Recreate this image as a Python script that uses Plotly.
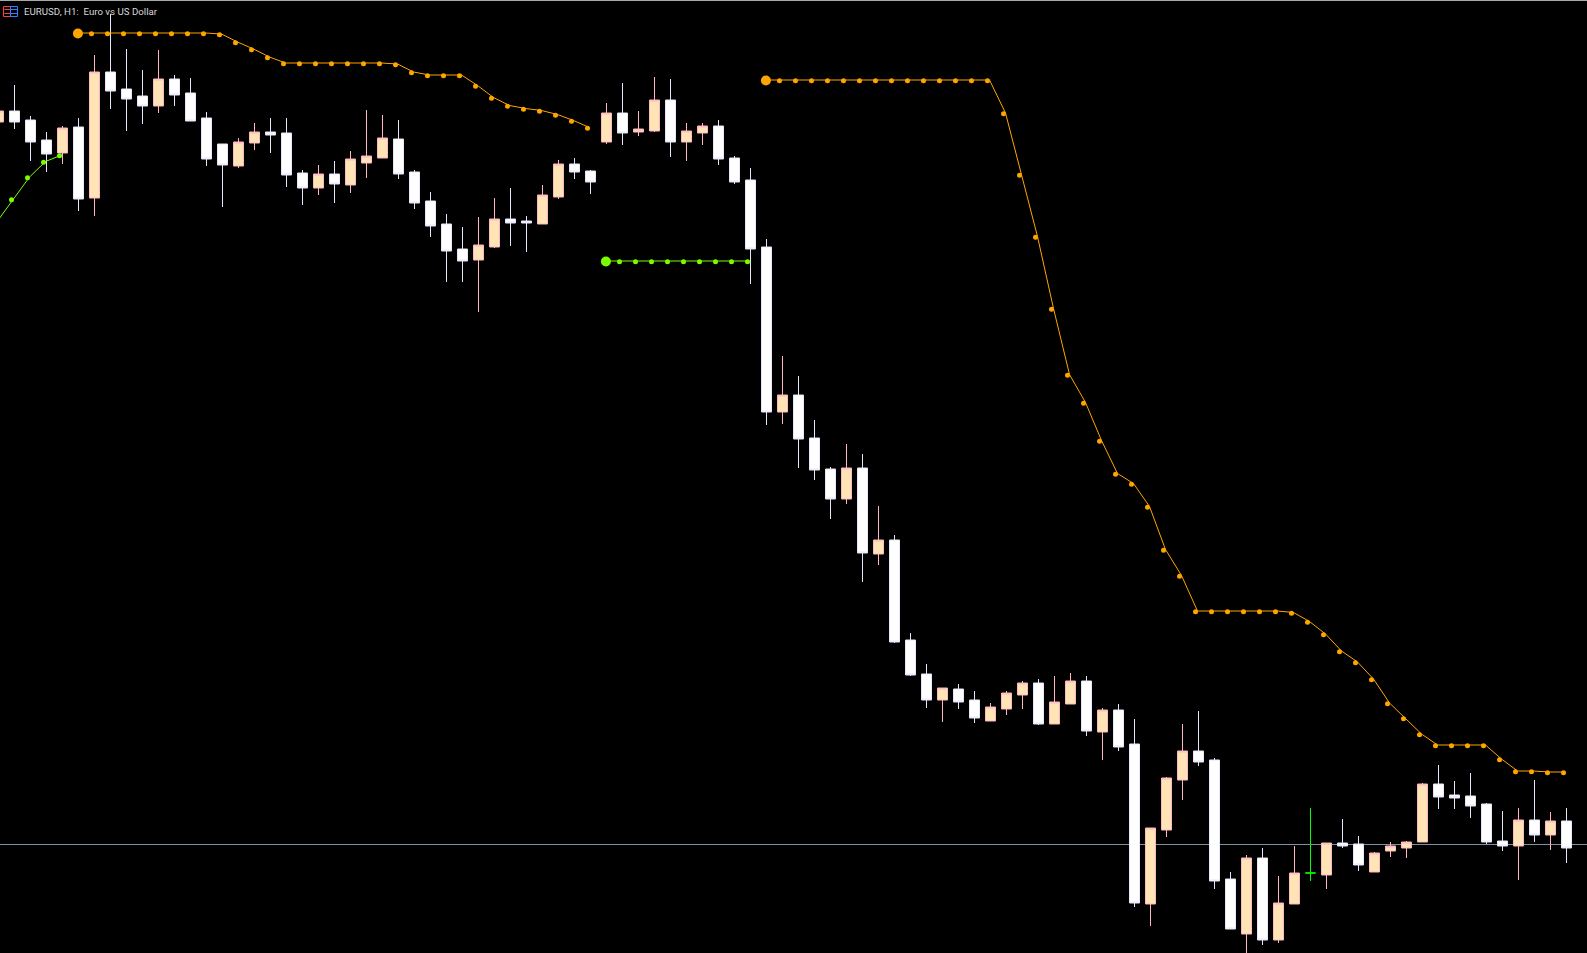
#!/bin/env python3
import numpy as np
import plotly.graph_objects as go

# H1 bars, first one is cut by the left edge of the window
bars = list(range(-1, 98))
opens = [
    1.09756, 1.09778, 1.09760, 1.09720, 1.09694, 1.09746, 1.09604, 1.09856, 1.09822, 1.09808,
    1.09788, 1.09842, 1.09814, 1.09764, 1.09712, 1.09668, 1.09714, 1.09736, 1.09734, 1.09654,
    1.09624, 1.09652, 1.09630, 1.09674, 1.09684, 1.09722, 1.09656, 1.09598, 1.09552, 1.09502,
    1.09480, 1.09506, 1.09562, 1.09558, 1.09552, 1.09606, 1.09672, 1.09658, 1.09716, 1.09774,
    1.09736, 1.09738, 1.09800, 1.09716, 1.09734, 1.09748, 1.09684, 1.09640, 1.09506, 1.09176,
    1.09210, 1.09124, 1.09062, 1.09002, 1.09064, 1.08892, 1.08920, 1.08720, 1.08652, 1.08600,
    1.08622, 1.08600, 1.08558, 1.08582, 1.08610, 1.08634, 1.08552, 1.08592, 1.08638, 1.08536,
    1.08580, 1.08512, 1.08192, 1.08340, 1.08440, 1.08498, 1.08480, 1.08242, 1.08132, 1.08284,
    1.08120, 1.08192, 1.08254, 1.08250, 1.08314, 1.08312, 1.08256, 1.08298, 1.08304, 1.08316,
    1.08432, 1.08410, 1.08408, 1.08392, 1.08318, 1.08308, 1.08360, 1.08330, 1.08358,
]
highs = [
    1.09780, 1.09830, 1.09768, 1.09736, 1.09748, 1.09764, 1.09890, 1.09972, 1.09902, 1.09860,
    1.09900, 1.09850, 1.09844, 1.09776, 1.09712, 1.09724, 1.09754, 1.09764, 1.09764, 1.09660,
    1.09670, 1.09678, 1.09698, 1.09780, 1.09770, 1.09760, 1.09660, 1.09616, 1.09572, 1.09546,
    1.09566, 1.09604, 1.09624, 1.09568, 1.09630, 1.09680, 1.09684, 1.09660, 1.09794, 1.09834,
    1.09778, 1.09846, 1.09842, 1.09754, 1.09754, 1.09760, 1.09688, 1.09664, 1.09522, 1.09288,
    1.09248, 1.09160, 1.09066, 1.09112, 1.09092, 1.08988, 1.08930, 1.08734, 1.08672, 1.08624,
    1.08632, 1.08618, 1.08594, 1.08618, 1.08638, 1.08642, 1.08648, 1.08654, 1.08648, 1.08584,
    1.08592, 1.08562, 1.08344, 1.08446, 1.08552, 1.08578, 1.08484, 1.08256, 1.08290, 1.08304,
    1.08248, 1.08308, 1.08384, 1.08314, 1.08362, 1.08328, 1.08296, 1.08316, 1.08318, 1.08434,
    1.08470, 1.08438, 1.08454, 1.08394, 1.08378, 1.08384, 1.08440, 1.08376, 1.08384,
]
lows = [
    1.09754, 1.09742, 1.09678, 1.09656, 1.09672, 1.09578, 1.09568, 1.09782, 1.09738, 1.09752,
    1.09774, 1.09788, 1.09758, 1.09668, 1.09586, 1.09664, 1.09700, 1.09694, 1.09626, 1.09590,
    1.09610, 1.09594, 1.09614, 1.09644, 1.09684, 1.09642, 1.09582, 1.09526, 1.09436, 1.09436,
    1.09376, 1.09504, 1.09508, 1.09496, 1.09552, 1.09602, 1.09642, 1.09612, 1.09712, 1.09710,
    1.09728, 1.09736, 1.09686, 1.09678, 1.09710, 1.09670, 1.09632, 1.09432, 1.09150, 1.09152,
    1.09064, 1.09040, 1.08962, 1.08992, 1.08836, 1.08870, 1.08714, 1.08648, 1.08584, 1.08556,
    1.08582, 1.08554, 1.08558, 1.08570, 1.08582, 1.08550, 1.08552, 1.08592, 1.08528, 1.08480,
    1.08498, 1.08186, 1.08148, 1.08326, 1.08400, 1.08468, 1.08222, 1.08142, 1.08090, 1.08110,
    1.08114, 1.08192, 1.08238, 1.08222, 1.08304, 1.08258, 1.08256, 1.08286, 1.08284, 1.08316,
    1.08382, 1.08382, 1.08364, 1.08312, 1.08298, 1.08240, 1.08316, 1.08300, 1.08274,
]
closes = [
    1.09778, 1.09756, 1.09716, 1.09692, 1.09744, 1.09602, 1.09856, 1.09818, 1.09802, 1.09788,
    1.09842, 1.09810, 1.09758, 1.09682, 1.09670, 1.09716, 1.09736, 1.09730, 1.09650, 1.09624,
    1.09652, 1.09632, 1.09682, 1.09688, 1.09724, 1.09652, 1.09594, 1.09548, 1.09498, 1.09478,
    1.09510, 1.09562, 1.09554, 1.09554, 1.09610, 1.09672, 1.09656, 1.09636, 1.09774, 1.09734,
    1.09742, 1.09800, 1.09716, 1.09738, 1.09748, 1.09682, 1.09636, 1.09502, 1.09176, 1.09210,
    1.09122, 1.09060, 1.09002, 1.09064, 1.08894, 1.08920, 1.08716, 1.08650, 1.08600, 1.08624,
    1.08596, 1.08564, 1.08586, 1.08614, 1.08634, 1.08552, 1.08596, 1.08638, 1.08538, 1.08580,
    1.08506, 1.08194, 1.08344, 1.08444, 1.08498, 1.08476, 1.08238, 1.08142, 1.08284, 1.08120,
    1.08194, 1.08254, 1.08254, 1.08314, 1.08308, 1.08270, 1.08294, 1.08308, 1.08316, 1.08432,
    1.08406, 1.08404, 1.08388, 1.08316, 1.08308, 1.08360, 1.08330, 1.08358, 1.08304,
]

# the one bar the platform paints green (mouse-over / selected bar)
selected_bar = 81

# stop lines: first bar of each run + the values
up_a_start = -1
up_a = [1.09558, 1.09602, 1.09646, 1.09677, 1.09690]
up_b_start = 37
up_b = [1.09478] * 10
down_a_start = 4
down_a = [1.09934] * 9 + [
    1.09932, 1.09916, 1.09902, 1.09886,
] + [1.09874] * 7 + [1.09872, 1.09856] + [1.09850] * 3 + [
    1.09829, 1.09805, 1.09789, 1.09783, 1.09779, 1.09771, 1.09759, 1.09745,
]
down_b_start = 47
down_b = [1.09840] * 15 + [
    1.09774, 1.09651, 1.09527, 1.09383, 1.09251, 1.09195, 1.09119, 1.09053, 1.09033, 1.08987,
    1.08901, 1.08849,
] + [1.08778] * 6 + [
    1.08775, 1.08757, 1.08732, 1.08698, 1.08676, 1.08642, 1.08594, 1.08564, 1.08532,
] + [1.08510] * 4 + [1.08482, 1.08458, 1.08458, 1.08456, 1.08456]

bid_price = 1.08311
title_text = "EURUSD, H1:\u00a0 Euro vs US Dollar"

WIDTH, HEIGHT = 1587, 953
BAR_PX = 16
PRICE_PER_PX = 0.00002
PEACH, PINK = "#ffe4b5", "#ffb6c1"
ORANGE, LIME = "#ffa500", "#7cfc00"
RED, BLUE = "#ff4040", "#2f80ff"


def px_x(p):
    return p / WIDTH


def px_y(p):
    return 1 - p / HEIGHT


def add_stop(fig, start, values, color, first_dot=True):
    # arrows sit a bit left of the bar and just under the buffer line
    x = np.arange(start, start + len(values))
    y = np.array(values)
    fig.add_trace(go.Scatter(x=x - 1 / BAR_PX, y=y, mode="lines", line=dict(color=color, width=1)))
    fig.add_trace(go.Scatter(
        x=x[1:] - 3 / BAR_PX, y=y[1:] - 0.7 * PRICE_PER_PX, mode="markers",
        marker=dict(color=color, size=5),
    ))
    if first_dot:
        fig.add_trace(go.Scatter(
            x=x[:1] - 0.6 / BAR_PX, y=y[:1] - 0.5 * PRICE_PER_PX, mode="markers",
            marker=dict(color=color, size=10),
        ))


idx = np.array(bars)
normal = idx != selected_bar
o, h, l, c = map(np.array, (opens, highs, lows, closes))

fig = go.Figure()
fig.add_trace(go.Candlestick(
    x=idx[normal], open=o[normal], high=h[normal], low=l[normal], close=c[normal],
    increasing=dict(line=dict(color=PINK, width=1), fillcolor=PEACH),
    decreasing=dict(line=dict(color="#e6e6fa", width=1), fillcolor="#ffffff"),
    whiskerwidth=0,
))
fig.add_trace(go.Candlestick(
    x=idx[~normal], open=o[~normal], high=h[~normal], low=l[~normal], close=c[~normal],
    increasing=dict(line=dict(color="#00ff00", width=1), fillcolor="#00ff00"),
    decreasing=dict(line=dict(color="#00ff00", width=1), fillcolor="#00ff00"),
    whiskerwidth=0,
))
# the first green run starts off-screen, so no big dot for it
add_stop(fig, up_a_start, up_a, LIME, first_dot=False)
add_stop(fig, up_b_start, up_b, LIME)
add_stop(fig, down_a_start, down_a, ORANGE)
add_stop(fig, down_b_start, down_b, ORANGE)

fig.add_shape(type="line", xref="paper", x0=0, x1=1, yref="y", y0=bid_price, y1=bid_price,
              line=dict(color="#8090a0", width=1), layer="below")
# window edge at the very top
fig.add_shape(type="line", xref="paper", yref="paper", x0=0, x1=1, y0=px_y(0.5), y1=px_y(0.5),
              line=dict(color="#a8a8a8", width=1))

# small menu icon in the corner
fig.add_shape(type="rect", xref="paper", yref="paper", x0=px_x(3.5), x1=px_x(10.5), y0=px_y(16.5), y1=px_y(6.5),
              line=dict(color=RED, width=1))
fig.add_shape(type="rect", xref="paper", yref="paper", x0=px_x(10.5), x1=px_x(17.5), y0=px_y(16.5), y1=px_y(6.5),
              line=dict(color=BLUE, width=1))
for row in (9.5, 13.5):
    fig.add_shape(type="line", xref="paper", yref="paper", x0=px_x(4.5), x1=px_x(10), y0=px_y(row), y1=px_y(row),
                  line=dict(color=RED, width=1))
    fig.add_shape(type="line", xref="paper", yref="paper", x0=px_x(11), x1=px_x(17), y0=px_y(row), y1=px_y(row),
                  line=dict(color=BLUE, width=1))

fig.add_annotation(text=title_text, xref="paper", yref="paper", x=px_x(22.5), y=px_y(12), xanchor="left", yanchor="middle",
                   showarrow=False, borderpad=0, font=dict(family="Roboto", size=9.7, color="#d8d8d8"))

fig.update_xaxes(range=[-14.5 / BAR_PX, (WIDTH - 14.5) / BAR_PX], visible=False, rangeslider_visible=False)
fig.update_yaxes(range=[1.1 - HEIGHT * PRICE_PER_PX, 1.1], visible=False)
fig.update_layout(
    width=WIDTH, height=HEIGHT, margin=dict(l=0, r=0, t=0, b=0, pad=0),
    paper_bgcolor="#000000", plot_bgcolor="#000000", showlegend=False,
    boxgap=0.375, boxgroupgap=0,
)

# the chart window has no page margin around it
fig.write_html(
    "out.html",
    config={"displayModeBar": False},
    post_script="document.body.style.margin='0';document.body.style.overflow='hidden';",
)
